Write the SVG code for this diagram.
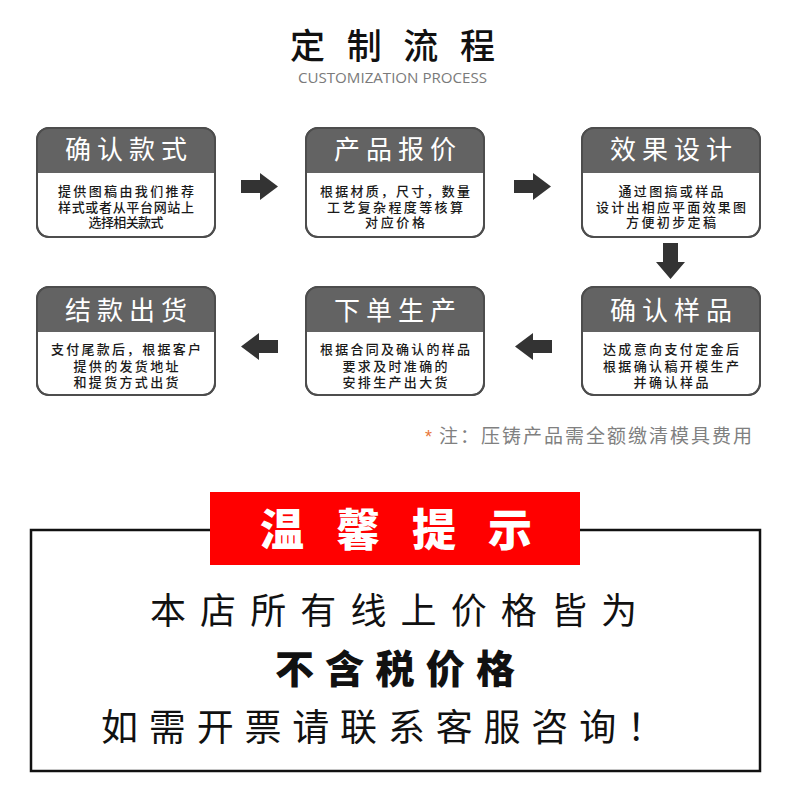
<svg xmlns="http://www.w3.org/2000/svg" width="790" height="795" viewBox="0 0 790 795">
<style>
.cjk{font-family:"Noto Sans CJK SC","Noto Sans",sans-serif}
.bf{font-family:"Liberation Sans","Noto Sans CJK SC",sans-serif}
.box{fill:#fff;stroke:#4d4d4d;stroke-width:2}
.hdr{fill:#636363}
.htxt{fill:#fff;font-size:26px;text-anchor:middle}
.btxt{fill:#1a1a1a;font-size:13px;font-weight:500;text-anchor:middle}
.arr{fill:#333}
</style>
<defs>
<path id="hdrShape" d="M0 45 V12 Q0 0 12 0 H166 Q178 0 178 12 V45 Z"/>
<path id="arrR" d="M0 7 H19 V0 L37 13.5 L19 27 V20 H0 Z"/>
<path id="arrL" d="M37 7 H18 V0 L0 13.5 L18 27 V20 H37 Z"/>
</defs>
<rect width="790" height="795" fill="#fff"/>

<g id="title">
<text class="bf" x="290" y="59" font-size="35" font-weight="500" fill="#111" textLength="205" lengthAdjust="spacing">定制流程</text>
<text x="298" y="83" font-family="Open Sans, sans-serif" font-size="15" fill="#7a7a7a" textLength="189" lengthAdjust="spacingAndGlyphs">CUSTOMIZATION PROCESS</text>
</g>

<g id="step1" transform="translate(37,128)">
<rect class="box" x="0" y="0" width="178" height="109" rx="12"/>
<use href="#hdrShape" class="hdr"/>
<rect x="0" y="0" width="178" height="109" rx="12" fill="none" stroke="#4d4d4d" stroke-width="2"/>
<text class="cjk htxt" x="89" y="31" textLength="122" lengthAdjust="spacing">确认款式</text>
<text class="bf btxt" x="89" y="68" textLength="136" lengthAdjust="spacing">提供图稿由我们推荐</text>
<text class="bf btxt" x="89" y="83.5" textLength="136" lengthAdjust="spacing">样式或者从平台网站上</text>
<text class="bf btxt" x="89" y="99" textLength="75" lengthAdjust="spacing">选择相关款式</text>
</g>

<g id="step2" transform="translate(306,128)">
<rect class="box" x="0" y="0" width="178" height="109" rx="12"/>
<use href="#hdrShape" class="hdr"/>
<rect x="0" y="0" width="178" height="109" rx="12" fill="none" stroke="#4d4d4d" stroke-width="2"/>
<text class="cjk htxt" x="89" y="31" textLength="122" lengthAdjust="spacing">产品报价</text>
<text class="bf btxt" x="89" y="68" textLength="150" lengthAdjust="spacing">根据材质，尺寸，数量</text>
<text class="bf btxt" x="89" y="83.5" textLength="136" lengthAdjust="spacing">工艺复杂程度等核算</text>
<text class="bf btxt" x="89" y="99" textLength="60" lengthAdjust="spacing">对应价格</text>
</g>

<g id="step3" transform="translate(582,128)">
<rect class="box" x="0" y="0" width="178" height="109" rx="12"/>
<use href="#hdrShape" class="hdr"/>
<rect x="0" y="0" width="178" height="109" rx="12" fill="none" stroke="#4d4d4d" stroke-width="2"/>
<text class="cjk htxt" x="89" y="31" textLength="122" lengthAdjust="spacing">效果设计</text>
<text class="bf btxt" x="89" y="68" textLength="105" lengthAdjust="spacing">通过图搞或样品</text>
<text class="bf btxt" x="89" y="83.5" textLength="150" lengthAdjust="spacing">设计出相应平面效果图</text>
<text class="bf btxt" x="89" y="99" textLength="90" lengthAdjust="spacing">方便初步定稿</text>
</g>

<g id="step4" transform="translate(582,287)">
<rect class="box" x="0" y="0" width="178" height="108" rx="12"/>
<use href="#hdrShape" class="hdr"/>
<rect x="0" y="0" width="178" height="108" rx="12" fill="none" stroke="#4d4d4d" stroke-width="2"/>
<text class="cjk htxt" x="89" y="33" textLength="122" lengthAdjust="spacing">确认样品</text>
<text class="bf btxt" x="89" y="67" textLength="136" lengthAdjust="spacing">达成意向支付定金后</text>
<text class="bf btxt" x="89" y="83.5" textLength="136" lengthAdjust="spacing">根据确认稿开模生产</text>
<text class="bf btxt" x="89" y="100" textLength="75" lengthAdjust="spacing">并确认样品</text>
</g>

<g id="step5" transform="translate(306,287)">
<rect class="box" x="0" y="0" width="178" height="108" rx="12"/>
<use href="#hdrShape" class="hdr"/>
<rect x="0" y="0" width="178" height="108" rx="12" fill="none" stroke="#4d4d4d" stroke-width="2"/>
<text class="cjk htxt" x="89" y="33" textLength="122" lengthAdjust="spacing">下单生产</text>
<text class="bf btxt" x="89" y="67" textLength="150" lengthAdjust="spacing">根据合同及确认的样品</text>
<text class="bf btxt" x="89" y="83.5" textLength="105" lengthAdjust="spacing">要求及时准确的</text>
<text class="bf btxt" x="89" y="100" textLength="105" lengthAdjust="spacing">安排生产出大货</text>
</g>

<g id="step6" transform="translate(37,287)">
<rect class="box" x="0" y="0" width="178" height="108" rx="12"/>
<use href="#hdrShape" class="hdr"/>
<rect x="0" y="0" width="178" height="108" rx="12" fill="none" stroke="#4d4d4d" stroke-width="2"/>
<text class="cjk htxt" x="89" y="33" textLength="122" lengthAdjust="spacing">结款出货</text>
<text class="bf btxt" x="89" y="67" textLength="150" lengthAdjust="spacing">支付尾款后，根据客户</text>
<text class="bf btxt" x="89" y="83.5" textLength="105" lengthAdjust="spacing">提供的发货地址</text>
<text class="bf btxt" x="89" y="100" textLength="105" lengthAdjust="spacing">和提货方式出货</text>
</g>

<g id="connectors">
<use href="#arrR" class="arr" x="241" y="173"/>
<use href="#arrR" class="arr" x="514" y="173"/>
<path class="arr" d="M663 243 H678 V262 H685 L670.5 279 L656 262 H663 Z"/>
<use href="#arrL" class="arr" x="515" y="333"/>
<use href="#arrL" class="arr" x="241" y="333"/>
</g>

<g id="note">
<text x="425" y="443" font-family="Liberation Sans, sans-serif" font-size="18" fill="#e8773a">*</text>
<text class="cjk" x="439" y="443" font-size="19" fill="#808080" textLength="313" lengthAdjust="spacing">注：压铸产品需全额缴清模具费用</text>
</g>

<g id="notice">
<rect x="31" y="530" width="729" height="241" fill="none" stroke="#111" stroke-width="2.5"/>
<rect x="210" y="492" width="370" height="73" fill="#ff0000"/>
<text class="cjk" x="260" y="546" font-size="44" font-weight="900" fill="#fff" textLength="272" lengthAdjust="spacing">温馨提示</text>
<text class="cjk" x="150" y="624" font-size="36" fill="#111" textLength="487" lengthAdjust="spacing">本店所有线上价格皆为</text>
<text class="cjk" x="275" y="683" font-size="39" font-weight="900" fill="#111" textLength="240" lengthAdjust="spacing">不含税价格</text>
<text class="cjk" x="101" y="741" font-size="37" fill="#111" textLength="563" lengthAdjust="spacing">如需开票请联系客服咨询！</text>
</g>
</svg>
